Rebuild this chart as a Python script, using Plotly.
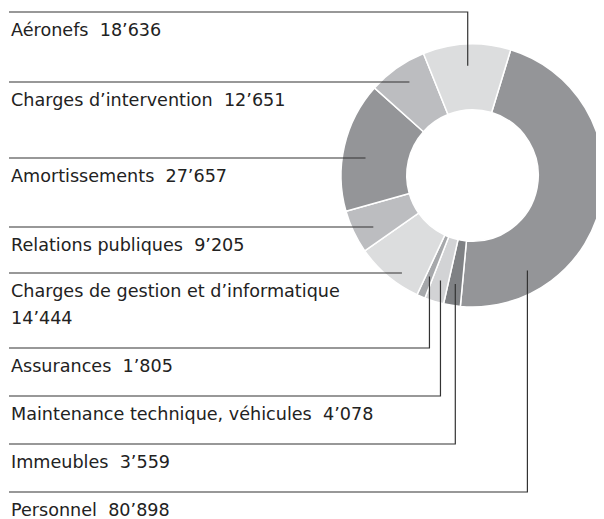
import math
import plotly.graph_objects as go

# ---------------- data ----------------
categories = [
    "Personnel",
    "Immeubles",
    "Maintenance technique, véhicules",
    "Assurances",
    "Charges de gestion et d’informatique",
    "Relations publiques",
    "Amortissements",
    "Charges d’intervention",
    "Aéronefs",
]
values = [80898, 3559, 4078, 1805, 14444, 9205, 27657, 12651, 18636]
value_labels = ["80’898", "3’559", "4’078", "1’805", "14’444", "9’205", "27’657", "12’651", "18’636"]
slice_colors = ["#949598", "#7f8184", "#d2d3d5", "#a6a8ab", "#dcddde",
                "#bcbdc0", "#949598", "#bcbdc0", "#dcddde"]

# label list order (top to bottom)
label_order = [
    "Aéronefs",
    "Charges d’intervention",
    "Amortissements",
    "Relations publiques",
    "Charges de gestion et d’informatique",
    "Assurances",
    "Maintenance technique, véhicules",
    "Immeubles",
    "Personnel",
]

# ---------------- layout constants (page pixels) ----------------
PAGE_W, PAGE_H = 604, 519
BODY_MARGIN = 8  # default page margin around the plot div
W, H = PAGE_W - BODY_MARGIN, PAGE_H - BODY_MARGIN
PIE_LEFT, PIE_RIGHT = 341, 604
PIE_TOP, PIE_BOTTOM = 44, 307
ROTATION = 16.9
HOLE = 0.5
ANCHOR_FRAC = 0.835
rule_y = [12, 82, 158, 227, 273, 348, 396, 444, 492]
leader_kind = ["down", "h", "h", "h", "h", "up", "up", "up", "up"]
anchor_angle_override = {"Personnel": 150.0}
RULE_X0 = 9
TEXT_X = 9
FONT = "DejaVu Sans"
FSIZE = 17.6
TEXT_COLOR = "#222222"
LINE_COLOR = "#333333"


def px(x):
    return (x - BODY_MARGIN) / W


def py(y):
    return 1 - (y - BODY_MARGIN) / H


cx = (PIE_LEFT + PIE_RIGHT) / 2
cy = (PIE_TOP + PIE_BOTTOM) / 2
R = min(PIE_RIGHT - PIE_LEFT, PIE_BOTTOM - PIE_TOP) / 2

# slice mid-angles (clockwise from 12 o'clock)
total = sum(values)
mid_angle = {}
acc = ROTATION
for c, v in zip(categories, values):
    span = v / total * 360
    mid_angle[c] = acc + span / 2
    acc += span


def anchor(cat):
    a = math.radians(anchor_angle_override.get(cat, mid_angle[cat]))
    r = R * ANCHOR_FRAC
    return cx + r * math.sin(a), cy - r * math.cos(a)


fig = go.Figure(
    go.Pie(
        labels=categories,
        values=values,
        sort=False,
        direction="clockwise",
        rotation=ROTATION,
        hole=HOLE,
        marker=dict(colors=slice_colors, line=dict(color="white", width=1.5)),
        textinfo="none",
        hoverinfo="skip",
        showlegend=False,
        domain=dict(x=[px(PIE_LEFT), min(1, px(PIE_RIGHT))], y=[py(PIE_BOTTOM), py(PIE_TOP)]),
    )
)

shapes = []
annotations = []
val_of = dict(zip(categories, value_labels))
for cat, ry, kind in zip(label_order, rule_y, leader_kind):
    ax, ay = anchor(cat)
    if kind == "h":
        path = f"M {px(RULE_X0)} {py(ry)} L {px(ax)} {py(ry)}"
    else:
        path = f"M {px(RULE_X0)} {py(ry)} L {px(ax)} {py(ry)} L {px(ax)} {py(ay)}"
    shapes.append(dict(type="path", xref="paper", yref="paper", path=path,
                       line=dict(color=LINE_COLOR, width=1.2)))
    if cat == "Charges de gestion et d’informatique":
        lines = [cat, val_of[cat]]
    else:
        lines = [cat + "\u00a0 " + val_of[cat]]
    for i, t in enumerate(lines):
        annotations.append(dict(
            x=px(TEXT_X), y=py(ry + 18 + i * 26.7), xref="paper", yref="paper",
            text=t, showarrow=False, xanchor="left", yanchor="middle",
            font=dict(family=FONT, size=FSIZE, color=TEXT_COLOR),
        ))

fig.update_layout(
    width=W, height=H,
    margin=dict(l=0, r=0, t=0, b=0),
    paper_bgcolor="white", plot_bgcolor="white",
    shapes=shapes, annotations=annotations,
)

fig.write_html("out.html")
